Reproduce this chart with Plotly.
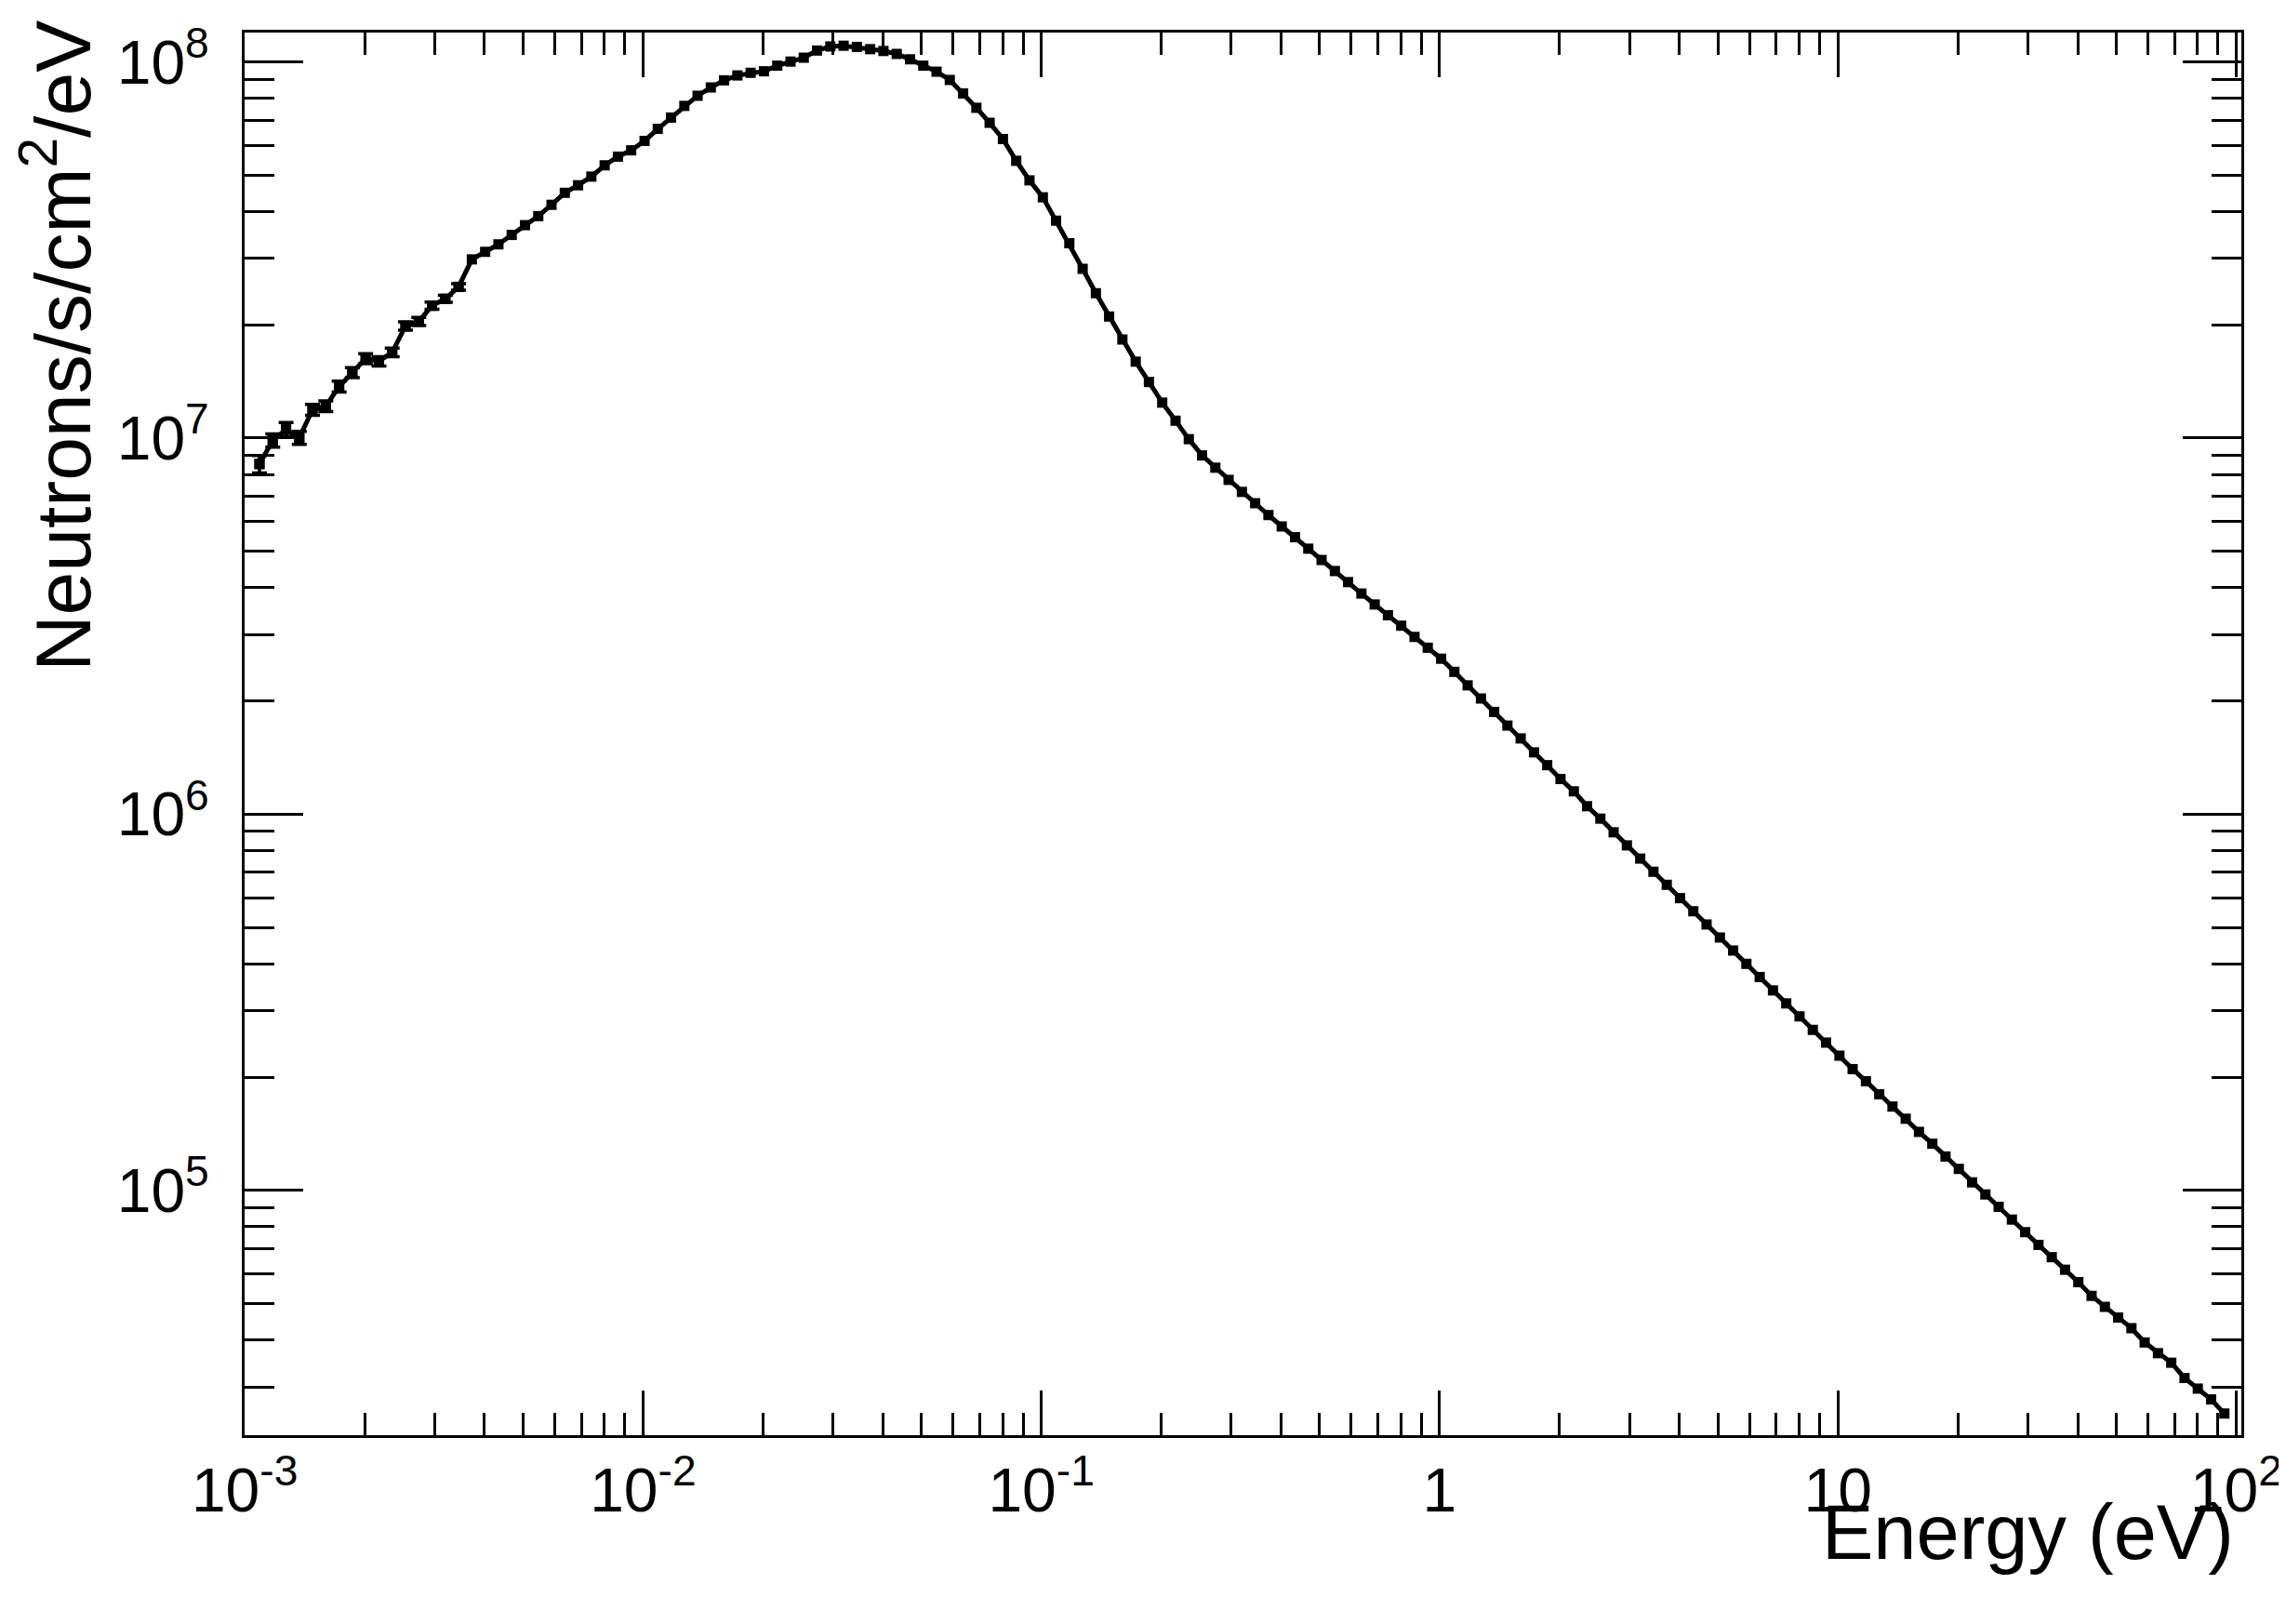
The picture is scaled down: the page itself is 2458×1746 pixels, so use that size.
import plotly.graph_objects as go

# ---- data (bin centres, 30 per decade) ----
energy_eV = [
    1.089e-3, 1.176e-3, 1.270e-3, 1.371e-3, 1.480e-3, 1.598e-3, 1.726e-3, 1.863e-3, 2.012e-3, 2.173e-3,
    2.346e-3, 2.533e-3, 2.735e-3, 2.953e-3, 3.189e-3, 3.443e-3, 3.718e-3, 4.015e-3, 4.335e-3, 4.681e-3,
    5.055e-3, 5.458e-3, 5.892e-3, 6.363e-3, 6.871e-3, 7.418e-3, 8.011e-3, 8.650e-3, 9.339e-3, 1.009e-2,
    1.089e-2, 1.176e-2, 1.270e-2, 1.371e-2, 1.480e-2, 1.598e-2, 1.726e-2, 1.863e-2, 2.012e-2, 2.173e-2,
    2.346e-2, 2.533e-2, 2.735e-2, 2.953e-2, 3.189e-2, 3.443e-2, 3.718e-2, 4.015e-2, 4.335e-2, 4.681e-2,
    5.055e-2, 5.458e-2, 5.892e-2, 6.363e-2, 6.871e-2, 7.418e-2, 8.011e-2, 8.650e-2, 9.339e-2, 1.009e-1,
    1.089e-1, 1.176e-1, 1.270e-1, 1.371e-1, 1.480e-1, 1.598e-1, 1.726e-1, 1.863e-1, 2.012e-1, 2.173e-1,
    2.346e-1, 2.533e-1, 2.735e-1, 2.953e-1, 3.189e-1, 3.443e-1, 3.718e-1, 4.015e-1, 4.335e-1, 4.681e-1,
    5.055e-1, 5.458e-1, 5.892e-1, 6.363e-1, 6.871e-1, 7.418e-1, 8.011e-1, 8.650e-1, 9.339e-1, 1.009,
    1.089, 1.176, 1.270, 1.371, 1.480, 1.598, 1.726, 1.863, 2.012, 2.173,
    2.346, 2.533, 2.735, 2.953, 3.189, 3.443, 3.718, 4.015, 4.335, 4.681,
    5.055, 5.458, 5.892, 6.363, 6.871, 7.418, 8.011, 8.650, 9.339, 10.09,
    10.89, 11.76, 12.70, 13.71, 14.80, 15.98, 17.26, 18.63, 20.12, 21.73,
    23.46, 25.33, 27.35, 29.53, 31.89, 34.43, 37.18, 40.15, 43.35, 46.81,
    50.55, 54.58, 58.92, 63.63, 68.71, 74.18, 80.11, 86.50, 93.39,
]
flux = [
    8.53e6, 9.86e6, 1.054e7, 1.002e7, 1.189e7, 1.216e7, 1.371e7, 1.493e7, 1.626e7, 1.600e7,
    1.690e7, 1.986e7, 2.042e7, 2.249e7, 2.344e7, 2.523e7, 2.985e7, 3.126e7, 3.273e7, 3.467e7,
    3.681e7, 3.890e7, 4.169e7, 4.487e7, 4.699e7, 4.955e7, 5.309e7, 5.598e7, 5.821e7, 6.166e7,
    6.637e7, 7.112e7, 7.638e7, 8.128e7, 8.551e7, 8.933e7, 9.204e7, 9.354e7, 9.441e7, 9.772e7,
    1.002e8, 1.026e8, 1.072e8, 1.099e8, 1.104e8, 1.096e8, 1.081e8, 1.069e8, 1.050e8, 1.016e8,
    9.772e7, 9.419e7, 8.954e7, 8.241e7, 7.551e7, 6.887e7, 6.237e7, 5.458e7, 4.842e7, 4.365e7,
    3.784e7, 3.296e7, 2.818e7, 2.427e7, 2.104e7, 1.828e7, 1.596e7, 1.409e7, 1.242e7, 1.112e7,
    9.93e6, 8.99e6, 8.34e6, 7.74e6, 7.19e6, 6.71e6, 6.24e6, 5.82e6, 5.45e6, 5.08e6,
    4.74e6, 4.43e6, 4.14e6, 3.86e6, 3.61e6, 3.38e6, 3.17e6, 2.96e6, 2.77e6, 2.59e6,
    2.39e6, 2.20e6, 2.03e6, 1.87e6, 1.72e6, 1.59e6, 1.46e6, 1.35e6, 1.24e6, 1.15e6,
    1.05e6, 9.73e5, 8.95e5, 8.26e5, 7.62e5, 7.03e5, 6.49e5, 5.98e5, 5.52e5, 5.09e5,
    4.70e5, 4.34e5, 4.00e5, 3.69e5, 3.40e5, 3.14e5, 2.90e5, 2.67e5, 2.47e5, 2.28e5,
    2.10e5, 1.95e5, 1.80e5, 1.67e5, 1.55e5, 1.43e5, 1.33e5, 1.23e5, 1.14e5, 1.05e5,
    9.75e4, 9.04e4, 8.36e4, 7.74e4, 7.16e4, 6.64e4, 6.15e4, 5.70e4, 5.24e4, 4.90e4,
    4.59e4, 4.30e4, 3.94e4, 3.69e4, 3.48e4, 3.17e4, 2.97e4, 2.78e4, 2.55e4,
]
# statistical errors, visible only on the lowest-energy bins
n_err = 16
flux_err = [4.5e5, 4.0e5, 4.5e5, 4.0e5, 4.0e5, 4.0e5, 4.5e5, 4.5e5, 5.0e5, 4.5e5,
            4.5e5, 5.0e5, 5.0e5, 5.0e5, 5.0e5, 5.0e5]

x_major = [1e-3, 1e-2, 1e-1, 1, 10, 100]
x_major_text = ["10<sup>-3</sup>", "10<sup>-2</sup>", "10<sup>-1</sup>", "1", "10", "10<sup>2</sup>"]
y_major = [1e5, 1e6, 1e7, 1e8]
y_major_text = ["10<sup>5</sup>", "10<sup>6</sup>", "10<sup>7</sup>", "10<sup>8</sup>"]

x_minor = [m * 10 ** d for d in range(-3, 2) for m in range(2, 10)]
y_minor = [m * 10 ** d for d in range(4, 9) for m in range(2, 10)]

FONT = "Liberation Sans, Arial, Helvetica, sans-serif"

fig = go.Figure()
fig.add_trace(go.Scatter(
    x=energy_eV, y=flux, mode="lines+markers",
    line=dict(color="black", width=5),
    marker=dict(symbol="square", size=11, color="black"),
    showlegend=False, hoverinfo="x+y",
))
fig.add_trace(go.Scatter(
    x=energy_eV[:n_err], y=flux[:n_err], mode="markers",
    marker=dict(symbol="square", size=11, color="black"),
    error_y=dict(type="data", array=flux_err, visible=True, color="black",
                 thickness=3.5, width=8),
    showlegend=False, hoverinfo="skip",
))

fig.update_layout(
    width=2458, height=1746,
    margin=dict(l=255, r=54, t=27, b=211),
    paper_bgcolor="white", plot_bgcolor="white",
    font=dict(family=FONT, color="black"),
    xaxis=dict(
        type="log", range=[-3.0003, 2.013],
        showline=True, linecolor="black", linewidth=3, mirror="allticks",
        showgrid=False, zeroline=False,
        ticks="inside", ticklen=48, tickwidth=2.5, tickcolor="black",
        tickmode="array", tickvals=x_major, ticktext=x_major_text,
        tickfont=dict(size=66, family=FONT),
        ticklabelstandoff=0,
        minor=dict(ticks="inside", ticklen=24, tickwidth=2.5, tickcolor="black",
                   tickmode="array", tickvals=x_minor, showgrid=False),
    ),
    yaxis=dict(
        type="log", range=[4.349, 8.078],
        showline=True, linecolor="black", linewidth=3, mirror="allticks",
        showgrid=False, zeroline=False,
        ticks="inside", ticklen=63, tickwidth=3, tickcolor="black",
        tickmode="array", tickvals=y_major, ticktext=y_major_text,
        tickfont=dict(size=66, family=FONT),
        ticklabelstandoff=22,
        minor=dict(ticks="inside", ticklen=32, tickwidth=3, tickcolor="black",
                   tickmode="array", tickvals=y_minor, showgrid=False),
    ),
    annotations=[
        dict(text="Energy (eV)", xref="paper", yref="paper", x=0.997, y=-0.069,
             xanchor="right", yanchor="middle", showarrow=False,
             font=dict(size=83, family=FONT, color="black")),
        dict(text="Neutrons/s/cm<sup>2</sup>/eV", xref="paper", yref="paper",
             x=-0.094, y=1.01, xanchor="center", yanchor="top", textangle=-90,
             showarrow=False, font=dict(size=84, family=FONT, color="black")),
    ],
)

fig.write_html("out.html")
